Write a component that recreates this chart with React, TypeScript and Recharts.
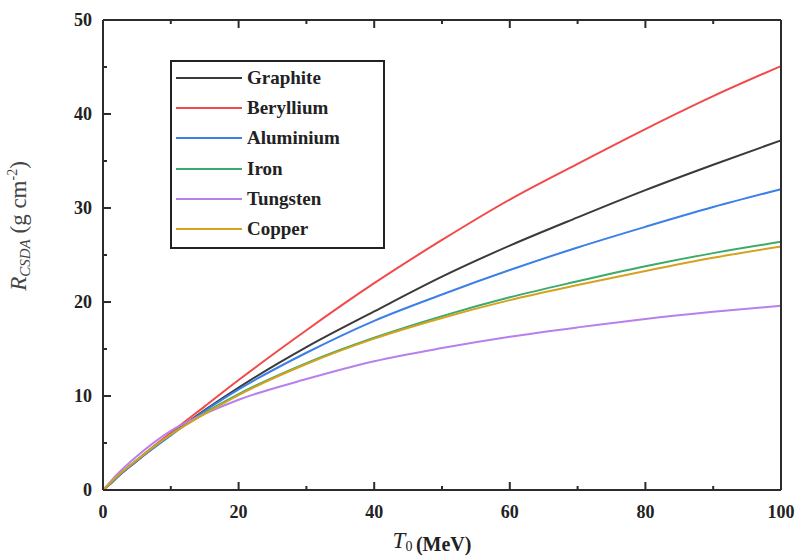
import { Line, LineChart, XAxis, YAxis } from "recharts";

const energies = [0, 1, 2, 5, 10, 15, 20, 30, 40, 50, 60, 70, 80, 90, 100];

const graphite = [0, 0.6, 1.3, 3.1, 5.9, 8.5, 10.9, 15.2, 19.0, 22.7, 26.0, 29.0, 31.9, 34.6, 37.2];
const beryllium = [0, 0.6, 1.3, 3.2, 6.1, 8.9, 11.7, 17.0, 22.0, 26.6, 30.9, 34.7, 38.4, 41.9, 45.1];
const aluminium = [0, 0.6, 1.3, 3.1, 5.8, 8.4, 10.7, 14.6, 18.0, 20.8, 23.4, 25.8, 28.0, 30.1, 32.0];
const iron = [0, 0.7, 1.4, 3.2, 5.9, 8.2, 10.2, 13.5, 16.2, 18.5, 20.5, 22.2, 23.8, 25.2, 26.4];
const tungsten = [0, 0.8, 1.6, 3.6, 6.3, 8.1, 9.6, 11.8, 13.7, 15.1, 16.3, 17.3, 18.2, 18.95, 19.6];
const copper = [0, 0.7, 1.4, 3.2, 5.9, 8.1, 10.1, 13.4, 16.1, 18.3, 20.2, 21.8, 23.3, 24.7, 25.9];

const xTicks = [0, 10, 20, 30, 40, 50, 60, 70, 80, 90, 100];
const yTicks = [0, 5, 10, 15, 20, 25, 30, 35, 40, 45, 50];

const series = [
  { key: "Graphite", values: graphite, color: "#3a3a3a" },
  { key: "Beryllium", values: beryllium, color: "#f24a4a" },
  { key: "Aluminium", values: aluminium, color: "#3b7fe8" },
  { key: "Iron", values: iron, color: "#3caa6c" },
  { key: "Tungsten", values: tungsten, color: "#b780ec" },
  { key: "Copper", values: copper, color: "#d4a21c" },
];

const data = energies.map((t, i) => {
  const row: Record<string, number> = { t };
  series.forEach((s) => (row[s.key] = s.values[i]));
  return row;
});

const AXIS = "#2b2b2b";
const FONT = '"Liberation Serif", "DejaVu Serif", serif';

// ticks drawn inward; label only on majors
function BottomTick({ x, y, payload }: any) {
  const major = payload.value % 20 === 0;
  return (
    <g>
      <line x1={x} x2={x} y1={y} y2={y - (major ? 8 : 4)} stroke={AXIS} strokeWidth={2} />
      {major && (
        <text x={x} y={y + 28} textAnchor="middle" fontFamily={FONT} fontWeight="bold" fontSize={18} fill="#222">
          {payload.value}
        </text>
      )}
    </g>
  );
}

function TopTick({ x, y, payload }: any) {
  const major = payload.value % 20 === 0;
  return <line x1={x} x2={x} y1={y} y2={y + (major ? 8 : 4)} stroke={AXIS} strokeWidth={2} />;
}

function LeftTick({ x, y, payload }: any) {
  const major = payload.value % 10 === 0;
  return (
    <g>
      <line x1={x} x2={x + (major ? 8 : 4)} y1={y} y2={y} stroke={AXIS} strokeWidth={2} />
      {major && (
        <text x={x - 11} y={y + 6} textAnchor="end" fontFamily={FONT} fontWeight="bold" fontSize={18} fill="#222">
          {payload.value}
        </text>
      )}
    </g>
  );
}

function RightTick({ x, y, payload }: any) {
  const major = payload.value % 10 === 0;
  return <line x1={x} x2={x - (major ? 8 : 4)} y1={y} y2={y} stroke={AXIS} strokeWidth={2} />;
}

function LegendBox() {
  return (
    <div
      style={{
        position: "absolute",
        left: 170,
        top: 60,
        width: 201,
        border: "2px solid #222",
        padding: "1px 6px 3px 4px",
        background: "#fff",
        fontFamily: FONT,
        fontWeight: "bold",
        fontSize: 19,
        color: "#222",
      }}
    >
      {series.map((s) => (
        <div key={s.key} style={{ display: "flex", alignItems: "center", height: 30.2 }}>
          <span style={{ display: "inline-block", width: 66, height: 2, background: s.color, marginRight: 5 }} />
          <span>{s.key}</span>
        </div>
      ))}
    </div>
  );
}

export default function App() {
  return (
    <div style={{ position: "absolute", left: 0, top: 0, width: 803, height: 558, background: "#fff" }}>
      <LineChart width={803} height={558} data={data} margin={{ top: 0, right: 0, bottom: 0, left: 0 }}>
        <XAxis
          dataKey="t"
          type="number"
          domain={[0, 100]}
          ticks={xTicks}
          height={68}
          tickSize={0}
          tickMargin={0}
          tickLine={false}
          tick={<BottomTick />}
          interval={0}
          axisLine={{ stroke: AXIS, strokeWidth: 2 }}
        />
        <XAxis
          xAxisId="top"
          orientation="top"
          dataKey="t"
          type="number"
          domain={[0, 100]}
          ticks={xTicks}
          height={20}
          tickSize={0}
          tickMargin={0}
          tickLine={false}
          tick={<TopTick />}
          interval={0}
          axisLine={{ stroke: AXIS, strokeWidth: 2 }}
        />
        <YAxis
          type="number"
          domain={[0, 50]}
          ticks={yTicks}
          width={103}
          tickSize={0}
          tickMargin={0}
          tickLine={false}
          tick={<LeftTick />}
          interval={0}
          axisLine={{ stroke: AXIS, strokeWidth: 2 }}
        />
        <YAxis
          yAxisId="right"
          orientation="right"
          type="number"
          domain={[0, 50]}
          ticks={yTicks}
          width={22}
          tickSize={0}
          tickMargin={0}
          tickLine={false}
          tick={<RightTick />}
          interval={0}
          axisLine={{ stroke: AXIS, strokeWidth: 2 }}
        />
        {series.map((s) => (
          <Line
            key={s.key}
            dataKey={s.key}
            type="monotone"
            stroke={s.color}
            strokeWidth={2}
            dot={false}
            isAnimationActive={false}
          />
        ))}
        <text x={26} y={226} transform="rotate(-90 26 226)" textAnchor="middle" fontFamily={FONT} fontSize={23} fill="#444">
          <tspan fontStyle="italic">R</tspan>
          <tspan fontStyle="italic" fontSize={15} dy={4}>CSDA</tspan>
          <tspan dy={-4}> (g cm</tspan>
          <tspan fontSize={14} dy={-9}>-2</tspan>
          <tspan dy={9}>)</tspan>
        </text>
        <text x={432} y={548} textAnchor="middle" fontFamily={FONT} fontSize={23} fill="#222">
          <tspan fontStyle="italic">T</tspan>
          <tspan fontSize={14} dy={3}>0 </tspan>
          <tspan fontSize={20} fontWeight="bold" dy={0}>(MeV)</tspan>
        </text>
      </LineChart>
      <LegendBox />
    </div>
  );
}
